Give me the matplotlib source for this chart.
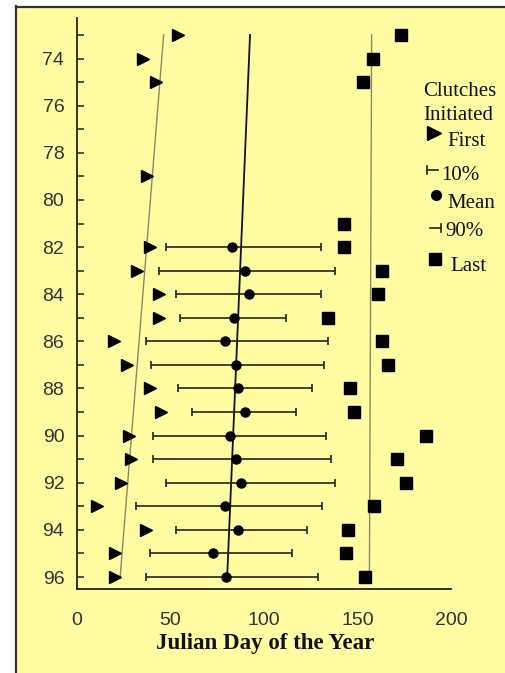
import numpy as np
import matplotlib
matplotlib.use("Agg")
import matplotlib.pyplot as plt
from matplotlib.lines import Line2D
from matplotlib.patches import Rectangle

# ---------------- data ----------------
first_years = [73, 74, 75, 79, 82, 83, 84, 85, 86, 87, 88, 89, 90, 91, 92, 93, 94, 95, 96]
first_days  = [54, 35.5, 42.5, 37.5, 39, 32.5, 44, 44, 20, 27, 39, 45, 28, 29, 24, 11, 37, 20.5, 20.5]

last_years = [73, 74, 75, 81, 82, 83, 84, 85, 86, 87, 88, 89, 90, 91, 92, 93, 94, 95, 96]
last_days  = [173, 158, 153, 143, 143, 163, 161, 134, 163, 166, 146, 148, 186.5, 171, 176, 159, 145, 144, 154]

mean_years = [82, 83, 84, 85, 86, 87, 88, 89, 90, 91, 92, 93, 94, 95, 96]
mean_days  = [83, 90, 92, 84, 79, 85, 86, 90, 82, 85, 88, 79, 86, 73, 80]
p10_days   = [47.5, 44, 53, 55, 37, 40, 54, 61.5, 41, 41, 47.5, 32, 53, 39, 37]
p90_days   = [130.5, 138, 130.5, 112, 134, 132, 125.5, 117, 133, 136, 138, 131, 123, 115, 129]

trend_years = [73, 96]
first_trend = [46.5, 23.3]
mean_trend  = [92.6, 80.4]
last_trend  = [157.5, 156.3]

x_ticks = [0, 50, 100, 150, 200]
y_major = list(range(74, 97, 2))
y_minor = list(range(73, 97, 2))

legend_title = ["Clutches", "Initiated"]
legend_labels = ["First", "10%", "Mean", "90%", "Last"]

# ---------------- style ----------------
W, H = 505, 673
BG = "#FFFCA2"
DARK = "#222222"
TREND = "#8a8a68"

fig = plt.figure(figsize=(W / 100, H / 100), dpi=100, facecolor="white")

def fx(px):
    return px / W

def fy(py):
    return 1 - py / H

# yellow panel with dark left/top border
fig.add_artist(Rectangle((fx(15), 0), 1 - fx(15), fy(6), transform=fig.transFigure,
                         facecolor=BG, edgecolor="none", zorder=-10))
fig.add_artist(Line2D([fx(15.5), fx(15.5)], [0, fy(6)], transform=fig.transFigure,
                      color="#333333", lw=1.6))
fig.add_artist(Line2D([fx(15.5), 1], [fy(6.5), fy(6.5)], transform=fig.transFigure,
                      color="#333333", lw=1.6))

ax = fig.add_axes([fx(76.5), fy(589.3), fx(451.3) - fx(76.5), fy(18) - fy(589.3)])
ax.set_facecolor("none")
ax.set_xlim(0, 200)
ax.set_ylim(96.52, 72.28)

for s in ["top", "right"]:
    ax.spines[s].set_visible(False)
for s in ["left", "bottom"]:
    ax.spines[s].set_color(DARK)
    ax.spines[s].set_linewidth(1.3)

ax.set_xticks(x_ticks)
ax.set_yticks(y_major)
ax.set_yticks(y_minor, minor=True)
ax.tick_params(axis="y", which="both", direction="in", length=5, width=1.1,
               color=DARK, pad=8.8)
ax.tick_params(axis="y", which="major", labelsize=14, labelcolor="#333333")
ax.tick_params(axis="x", which="both", length=0, pad=16, labelsize=14,
               labelcolor="#333333")
for lab in ax.get_xticklabels() + ax.get_yticklabels():
    lab.set_fontfamily("Liberation Sans")

# trend lines
ax.plot(first_trend, trend_years, color=TREND, lw=1.0, zorder=2)
ax.plot(mean_trend, trend_years, color="#111111", lw=1.3, zorder=2)
ax.plot(last_trend, trend_years, color=TREND, lw=1.0, zorder=2)

# error bars (10% - 90%)
mean_arr = np.array(mean_days)
xerr = [mean_arr - np.array(p10_days), np.array(p90_days) - mean_arr]
ax.errorbar(mean_days, mean_years, xerr=xerr, fmt="none", ecolor=DARK,
            elinewidth=1.2, capsize=2.6, capthick=1.2, zorder=3)
ax.plot(mean_days, mean_years, "o", color="black", ms=6.5, zorder=4)

ax.plot(first_days, first_years, ">", color="black", ms=9, zorder=4)
ax.plot(last_days, last_years, "s", color="black", ms=8.5, zorder=4)

# axis label
fig.text(fx(265.5), fy(649), "Julian Day of the Year", ha="center", va="baseline",
         fontsize=16.5, fontweight="bold", family="Liberation Serif", color="#111111")

# legend (manual, to match the original layout)
LF = dict(fontsize=15, family="Liberation Serif", color="#111111", va="center", ha="left")
fig.text(fx(423), fy(92), legend_title[0], **LF)
fig.text(fx(423), fy(115), legend_title[1], **LF)

def fig_marker(px, py, marker, ms):
    fig.add_artist(Line2D([fx(px)], [fy(py)], transform=fig.transFigure, marker=marker,
                          ms=ms, color="black", lw=0))

fig_marker(434, 133, ">", 9.5)
fig.text(fx(447), fy(142), legend_labels[0], **LF)

fig.add_artist(Line2D([fx(427), fx(438)], [fy(170), fy(170)], transform=fig.transFigure,
                      color=DARK, lw=1.2))
fig.add_artist(Line2D([fx(427), fx(427)], [fy(166), fy(174)], transform=fig.transFigure,
                      color=DARK, lw=1.2))
fig.text(fx(441), fy(175), legend_labels[1], **LF)

fig_marker(436, 195, "o", 7)
fig.text(fx(447), fy(203), legend_labels[2], **LF)

fig.add_artist(Line2D([fx(430), fx(441)], [fy(228), fy(228)], transform=fig.transFigure,
                      color=DARK, lw=1.2))
fig.add_artist(Line2D([fx(441), fx(441)], [fy(224), fy(232)], transform=fig.transFigure,
                      color=DARK, lw=1.2))
fig.text(fx(445), fy(231), legend_labels[3], **LF)

fig_marker(435, 259, "s", 9)
fig.text(fx(450), fy(267), legend_labels[4], **LF)

fig.savefig("out.png", dpi=100, facecolor="white")
